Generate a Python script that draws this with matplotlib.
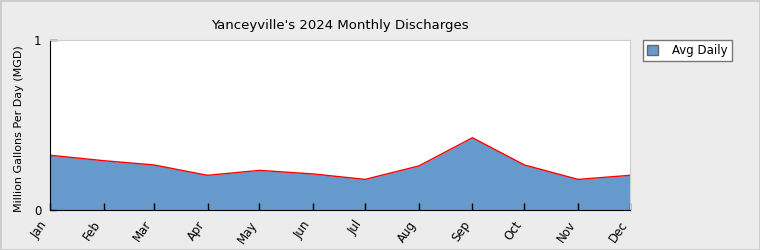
import matplotlib
matplotlib.use("Agg")
import matplotlib.pyplot as plt
import matplotlib.dates as mdates
from matplotlib.patches import Patch
import datetime as dt

months = ["Jan", "Feb", "Mar", "Apr", "May", "Jun", "Jul", "Aug", "Sep", "Oct", "Nov", "Dec"]
avg_daily = [0.322, 0.29, 0.265, 0.204, 0.233, 0.212, 0.18, 0.259, 0.425, 0.265, 0.18, 0.204]
dates = [dt.date(2024, i + 1, 1) for i in range(12)]

fig = plt.figure(figsize=(7.6, 2.5), dpi=100, facecolor="#ececec")
ax = fig.add_axes([50/760, 40/250, 580/760, 170/250])
ax.set_facecolor("white")

x = mdates.date2num(dates)
ax.fill_between(x, avg_daily, 0, color="#6699cc", linewidth=0)
ax.plot(x, avg_daily, color="red", linewidth=1)

ax.set_xlim(x[0], x[-1])
ax.set_ylim(0, 1)
ax.set_yticks([0, 1])
ax.set_yticklabels(["0", "1"], fontsize=8.5)
ax.set_xticks(x)
ax.set_xticklabels(months, rotation=55, ha="right", fontsize=8.5)
ax.tick_params(direction="in", length=5, width=1, colors="black", pad=6)
ax.tick_params(axis="x", pad=6)
for s in ["top", "right"]:
    ax.spines[s].set_color("#cccccc")
for s in ["left", "bottom"]:
    ax.spines[s].set_color("black")
ax.set_ylabel("Million Gallons Per Day (MGD)", fontsize=8)
ax.yaxis.set_label_coords(-26/580, 0.48)
ax.set_title("Yanceyville's 2024 Monthly Discharges", fontsize=9.5, pad=8)

handles = [Patch(facecolor="#6699cc", edgecolor="#666666", label="Avg Daily")]
leg = fig.legend(handles=handles, loc="upper left", bbox_to_anchor=(643/760, 1 - 40/250),
                 fontsize=8.5, fancybox=False, framealpha=1, edgecolor="#777777",
                 handlelength=0.9, handleheight=0.9, borderpad=0.35, handletextpad=1.2,
                 borderaxespad=0)
leg.get_frame().set_linewidth(1)

fig.patches.append(plt.Rectangle((0, 0), 1, 1, transform=fig.transFigure, fill=False,
                                 edgecolor="#cccccc", linewidth=2))
fig.savefig("out.png", dpi=100, facecolor=fig.get_facecolor())
